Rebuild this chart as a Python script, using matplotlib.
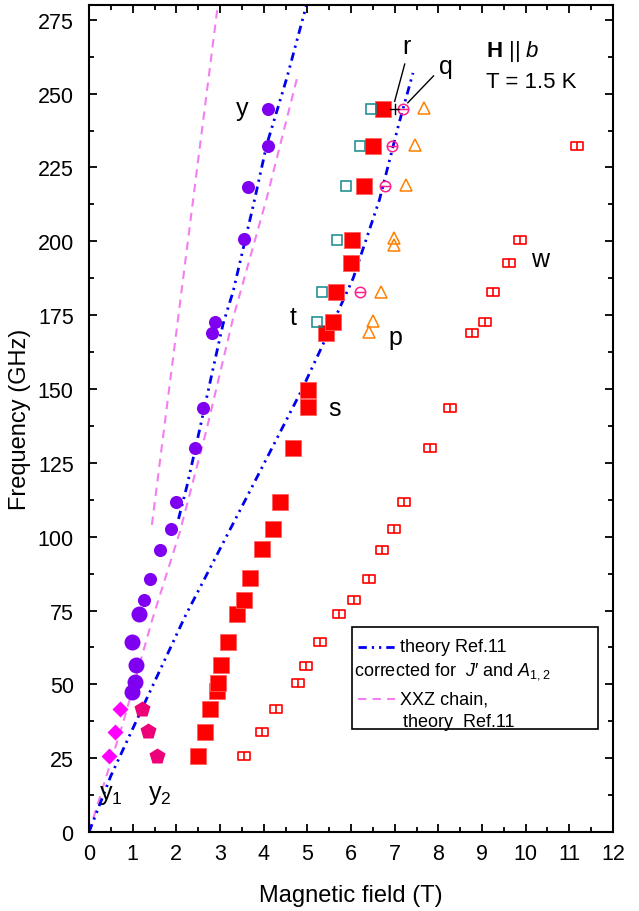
import matplotlib
matplotlib.use('Agg')
import matplotlib.pyplot as plt
from matplotlib.path import Path
from matplotlib.ticker import MultipleLocator
from matplotlib.lines import Line2D
from matplotlib.patches import Rectangle

plt.rcParams['font.family'] = ['Liberation Sans', 'DejaVu Sans']
plt.rcParams['mathtext.fontset'] = 'custom'
plt.rcParams['mathtext.rm'] = 'Liberation Sans'
plt.rcParams['mathtext.it'] = 'Liberation Sans:italic'
plt.rcParams['mathtext.bf'] = 'Liberation Sans:bold'

# ---- data (field in T, frequency in GHz) ----
y_small_B = [4.11, 4.10, 3.65, 3.54, 2.89, 2.81, 2.62, 2.43, 1.99, 1.87, 1.63, 1.40, 1.27]
y_small_F = [244.8, 232.4, 218.5, 200.7, 172.8, 168.9, 143.7, 129.9, 111.8, 102.5, 95.6, 85.8, 78.6]
y_big_B = [1.15, 0.99, 1.07, 1.06, 0.99]
y_big_F = [73.9, 64.3, 56.4, 50.8, 47.4]

y1_B = [0.71, 0.60, 0.46]
y1_F = [41.5, 34.0, 25.9]
y2_B = [1.21, 1.36, 1.56]
y2_F = [41.7, 34.1, 25.9]

s_B = [2.49, 2.66, 2.76, 2.92, 2.96, 3.02, 3.18, 3.38, 3.55, 3.69, 3.97, 4.21, 4.37,
       4.68, 5.02, 5.02, 5.43, 5.58, 5.66, 5.99, 6.02, 6.30, 6.51, 6.73]
s_F = [25.9, 34.0, 41.5, 47.6, 50.5, 56.4, 64.3, 73.9, 78.4, 86.0, 95.7, 102.7, 111.8,
       129.9, 149.6, 143.8, 168.9, 172.8, 182.8, 192.8, 200.5, 218.6, 232.4, 244.8]

t_B = [6.45, 6.21, 5.89, 5.67, 5.33, 5.21]
t_F = [244.8, 232.4, 218.6, 200.5, 182.8, 172.8]

q_B = [7.18, 6.95, 6.79, 6.21]
q_F = [244.8, 232.4, 218.6, 182.8]

p_B = [7.67, 7.47, 7.26, 6.99, 6.99, 6.68, 6.50, 6.42]
p_F = [245.2, 232.7, 218.9, 201.1, 198.8, 183.0, 173.1, 169.2]

w_B = [11.18, 9.87, 9.62, 9.26, 9.07, 8.76, 8.27, 7.81, 7.21, 6.98, 6.72, 6.41,
       6.07, 5.73, 5.29, 4.97, 4.78, 4.28, 3.97, 3.55]
w_F = [232.1, 200.5, 192.8, 182.7, 172.8, 168.9, 143.6, 129.9, 111.8, 102.7, 95.6, 85.8,
       78.4, 73.9, 64.3, 56.1, 50.5, 41.5, 34.0, 25.7]

# theory curves
th1_B = [0, 0.5, 1.3, 2.2, 3.6, 4.85, 5.45, 6.05, 6.65, 7.1, 7.42]
th1_F = [0, 19, 44.5, 73, 113, 149, 168, 187.5, 214, 240, 257]
th2_B = [2.05, 2.24, 2.54, 2.85, 3.07, 3.30, 3.76, 4.07, 4.53, 4.98]
th2_F = [106, 117, 136.7, 157.5, 172, 183, 212, 232.7, 255.3, 280]
xxz1_B = [0, 0.8, 1.45, 2.08, 2.7, 3.3, 4.07, 4.76]
xxz1_F = [0, 38, 72, 101.6, 136.7, 174, 214.6, 255]
xxz2_B = [1.44, 2.95]
xxz2_F = [104, 280]

blue = '#0000F0'
pink = '#F47EF0'
dash_blue = (3, 1.8, 0.8, 1.8, 0.8, 1.8)
dash_pink = (4, 3)

circ_bar = Path.make_compound_path(Path.unit_circle(), Path([(-1, 0), (1, 0)]))
rect_bar = Path([(-1, -0.8), (1, -0.8), (1, 0.8), (-1, 0.8), (-1, -0.8), (0, -0.8), (0, 0.8)],
                [Path.MOVETO, Path.LINETO, Path.LINETO, Path.LINETO, Path.CLOSEPOLY,
                 Path.MOVETO, Path.LINETO])

fig = plt.figure(figsize=(6.39, 9.12), dpi=100)
ax = fig.add_axes([0.1393, 0.0866, 0.8200, 0.9068])

ax.plot(xxz1_B, xxz1_F, color=pink, lw=1.5, dashes=dash_pink)
ax.plot(xxz2_B, xxz2_F, color=pink, lw=1.5, dashes=dash_pink)
ax.plot(th1_B, th1_F, color=blue, lw=2, dashes=dash_blue)
ax.plot(th2_B, th2_F, color=blue, lw=2, dashes=dash_blue)

ax.plot(y_small_B, y_small_F, 'o', color='#7F00F0', ms=9.4, mec='none')
ax.plot(y_big_B, y_big_F, 'o', color='#7F00F0', ms=11.5, mec='none')
ax.plot(y1_B, y1_F, 'D', color='#FF00FF', ms=8.5, mec='none')
ax.plot(y2_B, y2_F, 'p', color='#EE0078', ms=12, mec='none')
ax.plot(s_B, s_F, 's', color='#FF0000', ms=11.5, mec='#FF6060', mew=0.6)
ax.plot(t_B, t_F, 's', ms=6.5, mfc='none', mec='#128A8A', mew=1.1)
ax.plot(q_B, q_F, ls='none', marker=circ_bar, ms=7.5, mfc='none', mec='#FF1E8C', mew=1.1)
ax.plot(p_B, p_F, '^', ms=8.5, mfc='none', mec='#FF8000', mew=1.1)
ax.plot(w_B, w_F, ls='none', marker=rect_bar, ms=8, mfc='none', mec='#FF0000', mew=1.2)

# r / q pointers
ax.plot([6.9, 7.1], [244.8, 244.8], color='k', lw=1)
ax.plot([7.0, 7.0], [243.0, 246.6], color='k', lw=1)
ax.plot([7.23, 7.0], [260, 247.4], color='k', lw=1)
ax.plot([7.89, 7.30], [256, 246.9], color='k', lw=1)

lab = dict(fontsize=18, ha='center', va='center')
ax.text(7.27, 266.0, 'r', **lab)
ax.text(8.18, 259.5, 'q', **lab)
ax.text(3.50, 245, 'y', **lab)
ax.text(4.68, 174.5, 't', **lab)
ax.text(7.01, 167.5, 'p', **lab)
ax.text(5.62, 143.5, 's', **lab)
ax.text(10.34, 194.0, 'w', **lab)
ax.text(0.50, 13, 'y$_1$', **lab)
ax.text(1.62, 13, 'y$_2$', **lab)

ax.text(9.1, 264.5, r'$\mathbf{H}$ || $b$', fontsize=16, ha='left', va='center')
ax.text(9.1, 254, 'T = 1.5 K', fontsize=16, ha='left', va='center')

# legend drawn by hand
tr = ax.transAxes
ax.add_patch(Rectangle((0.502, 0.125), 0.469, 0.123, transform=tr, fill=False,
                       ec='k', lw=1.2, zorder=5))
ax.add_line(Line2D([0.513, 0.584], [0.224, 0.224], transform=tr, color=blue, lw=2,
                   dashes=dash_blue, zorder=6))
ax.add_line(Line2D([0.513, 0.584], [0.161, 0.161], transform=tr, color=pink, lw=1.5,
                   dashes=dash_pink, zorder=6))
ax.text(0.594, 0.224, 'theory Ref.11', transform=tr, fontsize=13, va='center')
ax.text(0.506, 0.195, "corrected for  $J$\u2032 and $A_{1,2}$", transform=tr, fontsize=13,
        va='center')
ax.text(0.594, 0.161, 'XXZ chain,', transform=tr, fontsize=13, va='center')
ax.text(0.600, 0.134, 'theory  Ref.11', transform=tr, fontsize=13, va='center')

ax.set_xlim(0, 12)
ax.set_ylim(0, 280)
ax.xaxis.set_major_locator(MultipleLocator(1))
ax.xaxis.set_minor_locator(MultipleLocator(0.5))
ax.yaxis.set_major_locator(MultipleLocator(25))
ax.yaxis.set_minor_locator(MultipleLocator(12.5))
ax.tick_params(which='both', direction='in', top=True, right=True, width=1.3)
ax.tick_params(which='major', length=6)
ax.tick_params(which='minor', length=3.5)
ax.tick_params(labelsize=15.5)
ax.tick_params(axis='x', pad=8)
ax.tick_params(axis='y', pad=11)
for sp in ax.spines.values():
    sp.set_linewidth(1.5)

ax.set_xlabel('Magnetic field (T)', fontsize=17, labelpad=14)
ax.set_ylabel('Frequency (GHz)', fontsize=17, labelpad=5)

fig.savefig('out.png', dpi=100)
